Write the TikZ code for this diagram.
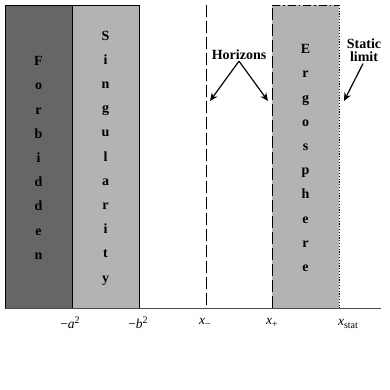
\documentclass[tikz,border=0pt]{standalone}
\usepackage{fontspec}
\setmainfont{Liberation Serif}
\usetikzlibrary{arrows.meta}
\definecolor{darkg}{HTML}{666666}
\definecolor{lightg}{HTML}{B3B3B3}
\newcommand{\sbs}[1]{\raisebox{-3pt}{\fontsize{10}{10}\selectfont #1}}
\newcommand{\sps}[1]{\raisebox{5pt}{\fontsize{10}{10}\selectfont #1}}
\begin{document}
\begin{tikzpicture}[x=1pt,y=-1pt,
  vlet/.style={font=\bfseries\fontsize{14}{14}\selectfont, align=center, inner sep=0pt},
  axlab/.style={font=\fontsize{13.5}{14}\selectfont, inner sep=0pt},
  arr/.style={line width=1.2pt, -{Stealth[length=8pt,width=7pt]}},
  lbl/.style={font=\bfseries\fontsize{14}{13}\selectfont, align=center, inner sep=0pt}]
\useasboundingbox (0,0) rectangle (390,390);
% regions
\fill[darkg] (5,5) rectangle (72,308);
\fill[lightg] (72,5) rectangle (139,308);
\fill[lightg] (272,5) rectangle (339,308);
\draw[line width=0.8pt] (5,308) -- (5,5) -- (139,5) -- (139,308);
\draw[line width=0.8pt] (72,5) -- (72,308);
% horizons
\draw[line width=0.9pt, dash pattern=on 12pt off 4pt] (206,5) -- (206,308);
\draw[line width=0.9pt, dash pattern=on 12pt off 4pt] (272,308) -- (272,5);
\draw[line width=0.9pt, dash pattern=on 8pt off 3pt on 1.5pt off 3pt] (272,5) -- (339,5);
\draw[line width=0.9pt, dash pattern=on 1.2pt off 1.6pt] (339,5) -- (339,308);
% axis
\draw[line width=1pt, black!70] (5,308) -- (381,308);
% vertical words
\node[vlet] (forb) at (38.5,158) {F\\[10.2pt]o\\[10.2pt]r\\[10.2pt]b\\[10.2pt]i\\[10.2pt]d\\[10.2pt]d\\[10.2pt]e\\[10.2pt]n};
\node[vlet] (sing) at (105.5,158) {S\\[10.2pt]i\\[10.2pt]n\\[10.2pt]g\\[10.2pt]u\\[10.2pt]l\\[10.2pt]a\\[10.2pt]r\\[10.2pt]i\\[10.2pt]t\\[10.2pt]y};
\node[vlet] (ergo) at (305.5,158) {E\\[10.2pt]r\\[10.2pt]g\\[10.2pt]o\\[10.2pt]s\\[10.2pt]p\\[10.2pt]h\\[10.2pt]e\\[10.2pt]r\\[10.2pt]e};
% labels
\node[lbl] (hor) at (239,55) {Horizons};
\node[lbl] (stat) at (364,50) {Static\\limit};
\coordinate (hm) at (210,101);
\coordinate (hp) at (268,101);
\coordinate (sl) at (344,101);
\draw[arr] (hor.south) ++(0,1) -- (hm);
\draw[arr] (hor.south) ++(0,1) -- (hp);
\draw[arr] (stat.south) ++(-1,2) -- (sl);
% axis labels
\node[axlab] (la) at (70,323) {−\textit{a}\sps{2}};
\node[axlab] (lb) at (138,323) {−\textit{b}\sps{2}};
\node[axlab] (lm) at (205,323) {\textit{x}\sbs{−}};
\node[axlab] (lp) at (272,323) {\textit{x}\sbs{+}};
\node[axlab] (ls) at (348,324) {\textit{x}\sbs{stat}};
\end{tikzpicture}
\end{document}
